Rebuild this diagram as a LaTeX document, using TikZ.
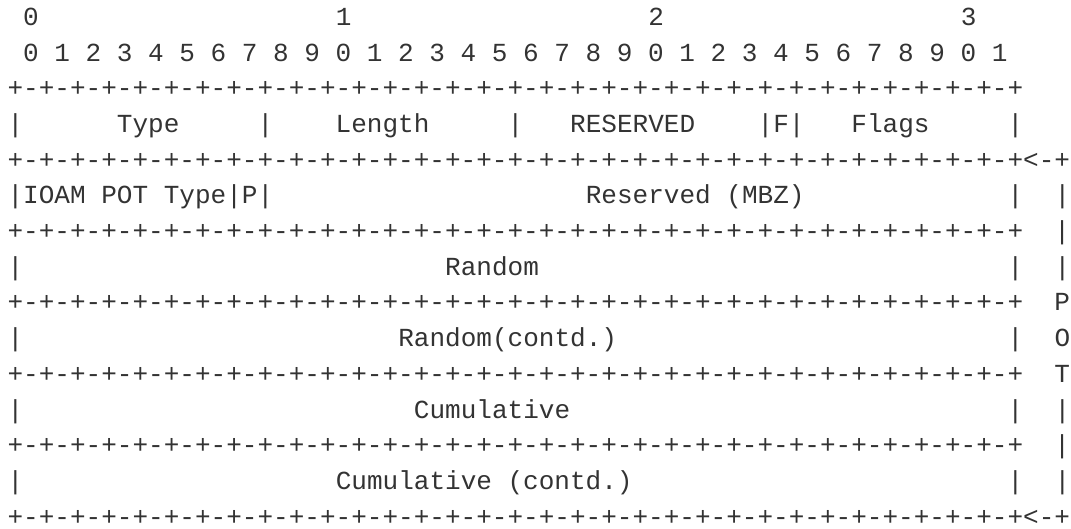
\documentclass[tikz,border=0pt]{standalone}
\usepackage{fontspec}
\setmonofont{Liberation Mono}

\definecolor{ink}{HTML}{333333}

% n blank character cells of the current mono font
\newcommand{\gap}[1]{\hskip\dimexpr #1\fontcharwd\font`0\relax}
\newcommand{\border}{+\foreach\i in {1,...,32}{-+}}

\tikzset{row/.style={anchor=base west, inner sep=0pt, text=ink, text depth=0pt,
  font=\fontsize{13.02}{17.8}\selectfont\ttfamily}}

\begin{document}
\begin{tikzpicture}[x=0.5pt, y=-0.5pt]

\fill[white] (0,0) rectangle (1071,529);
\useasboundingbox (0,0) rectangle (1071,529);

% bit numbers
\node[row] (tens) at (7.2,25.4) {\gap{1}0\gap{19}1\gap{19}2\gap{19}3};
\node[row] (units) at (7.2,61.1)
  {\foreach\d in {0,1,2,3,4,5,6,7,8,9,0,1,2,3,4,5,6,7,8,9,0,1,2,3,4,5,6,7,8,9,0,1}{\gap{1}\d}};

% header word
\node[row] (top) at (7.2,96.8) {\border};
\node[row] (hdr) at (7.2,132.5)
  {|\gap{6}Type\gap{5}|\gap{4}Length\gap{5}|\gap{3}RESERVED\gap{4}|F|\gap{3}Flags\gap{5}|};
\node[row] (potstart) at (7.2,168.2) {\border<-+};

% POT data
\node[row] (potkind) at (7.2,203.9) {|IOAM POT Type|P|\gap{20}Reserved (MBZ)\gap{13}|\gap{2}|};
\node[row] (sep1) at (7.2,239.6) {\border\gap{2}|};
\node[row] (rnd) at (7.2,275.3) {|\gap{27}Random\gap{30}|\gap{2}|};
\node[row] (sep2) at (7.2,311.0) {\border\gap{2}P};
\node[row] (rndcont) at (7.2,346.7) {|\gap{24}Random(contd.)\gap{25}|\gap{2}O};
\node[row] (sep3) at (7.2,382.4) {\border\gap{2}T};
\node[row] (cml) at (7.2,418.1) {|\gap{25}Cumulative\gap{28}|\gap{2}|};
\node[row] (sep4) at (7.2,453.8) {\border\gap{2}|};
\node[row] (cmlcont) at (7.2,489.5) {|\gap{20}Cumulative (contd.)\gap{24}|\gap{2}|};
\node[row] (potend) at (7.2,525.2) {\border<-+};

\end{tikzpicture}
\end{document}
